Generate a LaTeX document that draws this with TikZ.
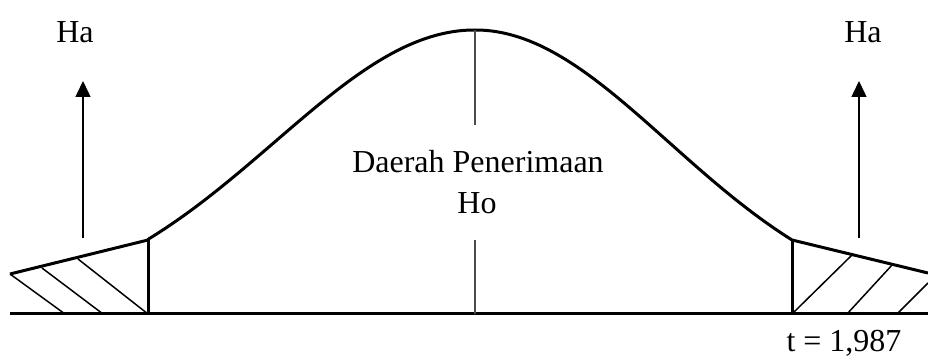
\documentclass[tikz,border=0pt]{standalone}
\usepackage{fontspec}
\setmainfont{Liberation Serif}
\usetikzlibrary{arrows.meta}
\tikzset{
  thick line/.style={line width=1.5pt,line join=round},
  hatch/.style={line width=0.75pt},
  mid line/.style={line width=1pt,gray!60!black}
}
\begin{document}
\begin{tikzpicture}[x=0.5pt,y=-0.5pt,>={Triangle[width=7.5pt,length=8pt]},font=\fontsize{16}{19}\selectfont]
\useasboundingbox (0,0) rectangle (928,358);
% axis, tails and curve
\coordinate (lt) at (148,240); \coordinate (lb) at (148,314);
\coordinate (rt) at (792,240); \coordinate (rb) at (792,314);
\draw[thick line] (10,314) -- (928,314);
\draw[thick line] (10,274) -- (lt)
  -- plot[domain=148:475,samples=60] (\x,{314-284*exp(-0.5*((\x-475)/200)^2)})
  -- plot[domain=475:792,samples=60] (\x,{314-284*exp(-0.5*((\x-475)/193.3)^2)})
  -- (928,273);
\draw[thick line] (lt) -- (lb);
\draw[thick line] (rt) -- (rb);
% rejection regions
\draw[hatch] (10,274) -- (65,314) (42,268) -- (103,314) (78,259) -- (lb);
\draw[hatch] (rb) -- (852,255) (847,314) -- (893,264) (897,314) -- (928,283);
% centre line and labels
\draw[mid line] (475,30) -- (475,125) (475,240) -- (475,314);
\node (dp) at (478,162) {Daerah Penerimaan};
\node (ho) at (477,203) {Ho};
\node (hal) at (75,32) {Ha};
\node (har) at (863,32) {Ha};
\coordinate (al) at (83,238); \coordinate (alt) at (83,81);
\coordinate (ar) at (859,238); \coordinate (art) at (859,81);
\draw[->,line width=0.75pt] (al) -- (alt);
\draw[->,line width=0.75pt] (ar) -- (art);
\node[anchor=base,inner sep=0pt] (tv) at (844,351) {t = 1,987};
\end{tikzpicture}
\end{document}
